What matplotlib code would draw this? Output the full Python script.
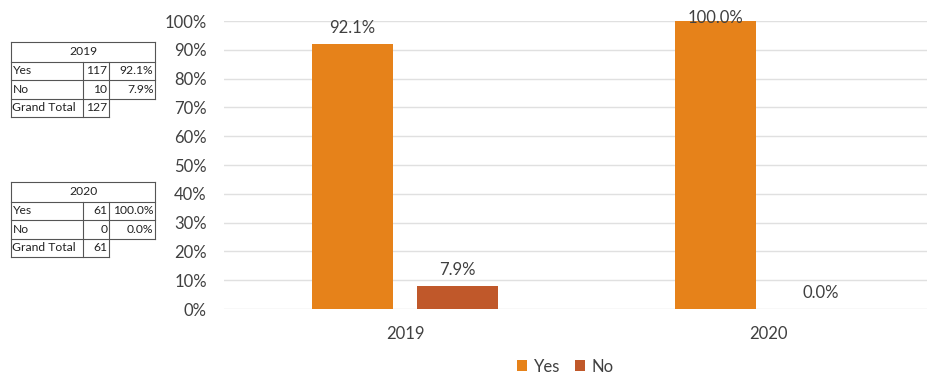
import matplotlib
matplotlib.use('Agg')
import matplotlib.pyplot as plt
import numpy as np
from matplotlib.lines import Line2D

years = ['2019', '2020']
series = ['Yes', 'No']
yes_pct = [92.1, 100.0]
no_pct = [7.9, 0.0]
yes_count = [117, 61]
no_count = [10, 0]
totals = [127, 61]

colors = {'Yes': '#E6821A', 'No': '#C0582A'}
text_col = '#404040'

plt.rcParams['font.family'] = ['Lato', 'DejaVu Sans']

fig = plt.figure(figsize=(9.27, 3.76), dpi=100)
ax = fig.add_axes([223.5 / 927, 67 / 376, 726 / 927, 288 / 376])

x = np.arange(len(years))
w = 0.225
off = 0.145
for vals, name, sgn in [(yes_pct, 'Yes', -1), (no_pct, 'No', 1)]:
    bars = ax.bar(x + sgn * off, vals, w, color=colors[name], label=name)
    for b, v in zip(bars, vals):
        dy = 3 if v > 95 else 16
        ax.annotate('%.1f%%' % v, (b.get_x() + b.get_width() / 2, v),
                    xytext=(0, dy * 0.72), textcoords='offset points',
                    ha='center', va='center', fontsize=12, color=text_col)

ax.set_xlim(-0.5, 1.5)
ax.set_ylim(0, 100)
ax.set_yticks(np.arange(0, 101, 10))
ax.set_yticklabels(['%d%%' % t for t in range(0, 101, 10)])
ax.set_xticks(x)
ax.set_xticklabels(years)
ax.tick_params(axis='both', length=0, labelsize=12, colors=text_col)
ax.tick_params(axis='y', pad=12)
ax.tick_params(axis='x', pad=12)
ax.grid(True, axis='y', color='#E0E0E0', linewidth=1)
ax.set_axisbelow(True)
for s in ax.spines.values():
    s.set_visible(False)

fig.legend(loc='center', bbox_to_anchor=(0.61, 0.025), ncol=2, frameon=False,
           handlelength=0.6, handleheight=0.6, handletextpad=0.4,
           columnspacing=0.9, fontsize=12, labelcolor=text_col)

# small summary tables on the left, drawn in pixel space
ov = fig.add_axes([0, 0, 1, 1])
ov.set_xlim(0, 927)
ov.set_ylim(376, 0)
ov.axis('off')
ov.patch.set_alpha(0)

def hl(x0, x1, y):
    ov.add_line(Line2D([x0, x1], [y, y], color='#555555', lw=0.8))

def vl(x, y0, y1):
    ov.add_line(Line2D([x, x], [y0, y1], color='#555555', lw=0.8))

cx = [11.5, 83, 109, 155]
tops = [41.5, 181.5]
for i, yr in enumerate(years):
    t = tops[i]
    rows = [t, t + 20, t + 38.5, t + 57, t + 75.5]
    hl(cx[0], cx[3], rows[0])
    hl(cx[0], cx[3], rows[1])
    hl(cx[0], cx[3], rows[2])
    hl(cx[0], cx[3], rows[3])
    hl(cx[0], cx[2], rows[4])
    vl(cx[0], rows[0], rows[4])
    vl(cx[3], rows[0], rows[3])
    vl(cx[1], rows[1], rows[4])
    vl(cx[2], rows[1], rows[4])
    fs = 8.7
    ov.text((cx[0] + cx[3]) / 2, (rows[0] + rows[1]) / 2, yr, ha='center', va='center', fontsize=fs, color='#222222')
    labels = ['Yes', 'No', 'Grand Total']
    counts = [yes_count[i], no_count[i], totals[i]]
    pcts = [yes_pct[i], no_pct[i], None]
    for r in range(3):
        ym = (rows[r + 1] + rows[r + 2]) / 2
        ov.text(cx[0] + 1, ym, labels[r], ha='left', va='center', fontsize=fs, color='#222222')
        ov.text(cx[2] - 1.5, ym, str(counts[r]), ha='right', va='center', fontsize=fs, color='#222222')
        if pcts[r] is not None:
            ov.text(cx[3] - 1.5, ym, '%.1f%%' % pcts[r], ha='right', va='center', fontsize=fs, color='#222222')

fig.savefig('out.png', dpi=100)
